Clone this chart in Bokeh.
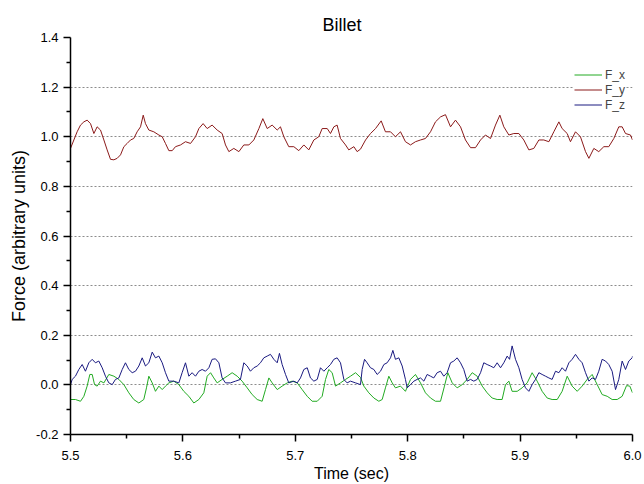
from bokeh.plotting import figure
from bokeh.models import (Range1d, FixedTicker, PrintfTickFormatter, Legend,
                          LegendItem)
from bokeh.embed import file_html
from bokeh.resources import INLINE

# ---------------- data ----------------
time_y = [5.5000, 5.5030, 5.5059, 5.5089, 5.5119, 5.5148, 5.5178, 5.5208, 5.5237, 5.5267,
          5.5297, 5.5326, 5.5356, 5.5386, 5.5415, 5.5445, 5.5475, 5.5504, 5.5534, 5.5563,
          5.5593, 5.5623, 5.5647, 5.5667, 5.5697, 5.5741, 5.5786, 5.5816, 5.5845, 5.5875,
          5.5905, 5.5934, 5.5979, 5.6023, 5.6068, 5.6112, 5.6142, 5.6180, 5.6216, 5.6260,
          5.6305, 5.6349, 5.6379, 5.6409, 5.6453, 5.6498, 5.6542, 5.6587, 5.6631, 5.6676,
          5.6711, 5.6750, 5.6794, 5.6839, 5.6868, 5.6898, 5.6942, 5.6987, 5.7031, 5.7076,
          5.7120, 5.7165, 5.7209, 5.7239, 5.7284, 5.7313, 5.7343, 5.7372, 5.7402, 5.7447,
          5.7476, 5.7521, 5.7550, 5.7580, 5.7625, 5.7669, 5.7714, 5.7764, 5.7802, 5.7847,
          5.7891, 5.7936, 5.7980, 5.8025, 5.8069, 5.8114, 5.8158, 5.8203, 5.8247, 5.8292,
          5.8336, 5.8381, 5.8425, 5.8470, 5.8514, 5.8559, 5.8603, 5.8648, 5.8692, 5.8737,
          5.8781, 5.8820, 5.8855, 5.8900, 5.8944, 5.8989, 5.9033, 5.9078, 5.9122, 5.9167,
          5.9211, 5.9256, 5.9300, 5.9345, 5.9374, 5.9419, 5.9448, 5.9493, 5.9537, 5.9582,
          5.9612, 5.9656, 5.9700, 5.9745, 5.9789, 5.9834, 5.9878, 5.9908, 5.9938, 5.9982,
          6.0000]
force_y = [0.953, 0.987, 1.020, 1.047, 1.060, 1.067, 1.053, 1.013, 1.040, 1.027,
           0.987, 0.947, 0.909, 0.907, 0.913, 0.927, 0.960, 0.973, 0.987, 0.993,
           1.020, 1.040, 1.087, 1.053, 1.027, 1.020, 1.007, 1.000, 0.973, 0.944,
           0.944, 0.960, 0.967, 0.980, 0.973, 1.000, 1.033, 1.053, 1.033, 1.047,
           1.027, 1.013, 0.967, 0.940, 0.953, 0.940, 0.967, 0.967, 0.987, 1.033,
           1.073, 1.033, 1.047, 1.027, 1.040, 1.000, 0.960, 0.960, 0.944, 0.967,
           0.947, 0.987, 1.000, 1.033, 1.033, 1.013, 1.040, 1.047, 0.993, 0.967,
           0.947, 0.960, 0.940, 0.950, 0.987, 1.013, 1.033, 1.064, 1.020, 1.020,
           1.000, 1.020, 0.980, 0.967, 0.980, 0.987, 0.993, 1.020, 1.060, 1.080,
           1.089, 1.040, 1.067, 1.040, 0.987, 0.956, 0.956, 0.987, 1.007, 0.993,
           1.047, 1.087, 1.040, 1.007, 1.013, 1.013, 0.987, 0.947, 0.953, 0.987,
           0.987, 0.980, 1.020, 1.060, 1.033, 1.013, 0.980, 1.020, 1.000, 0.940,
           0.913, 0.953, 0.940, 0.960, 0.960, 0.993, 1.040, 1.040, 1.013, 1.007,
           0.987]

time_z = [5.5000, 5.5015, 5.5044, 5.5074, 5.5104, 5.5133, 5.5163, 5.5193, 5.5222, 5.5252,
          5.5282, 5.5311, 5.5341, 5.5371, 5.5400, 5.5430, 5.5460, 5.5489, 5.5519, 5.5549,
          5.5578, 5.5608, 5.5638, 5.5667, 5.5697, 5.5727, 5.5756, 5.5786, 5.5816, 5.5845,
          5.5875, 5.5919, 5.5964, 5.5993, 5.6023, 5.6053, 5.6082, 5.6112, 5.6142, 5.6171,
          5.6201, 5.6231, 5.6260, 5.6290, 5.6320, 5.6349, 5.6379, 5.6423, 5.6468, 5.6512,
          5.6542, 5.6572, 5.6601, 5.6631, 5.6661, 5.6690, 5.6720, 5.6750, 5.6779, 5.6809,
          5.6839, 5.6859, 5.6883, 5.6913, 5.6942, 5.6987, 5.7017, 5.7046, 5.7076, 5.7106,
          5.7135, 5.7165, 5.7195, 5.7224, 5.7254, 5.7284, 5.7313, 5.7343, 5.7372, 5.7402,
          5.7432, 5.7461, 5.7491, 5.7536, 5.7580, 5.7595, 5.7616, 5.7639, 5.7669, 5.7699,
          5.7728, 5.7758, 5.7788, 5.7817, 5.7847, 5.7868, 5.7891, 5.7921, 5.7951, 5.7980,
          5.7995, 5.8025, 5.8055, 5.8084, 5.8114, 5.8144, 5.8173, 5.8203, 5.8232, 5.8262,
          5.8292, 5.8321, 5.8351, 5.8381, 5.8410, 5.8440, 5.8470, 5.8499, 5.8529, 5.8559,
          5.8588, 5.8618, 5.8648, 5.8677, 5.8707, 5.8737, 5.8766, 5.8796, 5.8826, 5.8855,
          5.8885, 5.8906, 5.8929, 5.8959, 5.8989, 5.9018, 5.9048, 5.9078, 5.9107, 5.9137,
          5.9167, 5.9196, 5.9226, 5.9256, 5.9285, 5.9315, 5.9345, 5.9374, 5.9404, 5.9434,
          5.9463, 5.9493, 5.9523, 5.9552, 5.9582, 5.9612, 5.9641, 5.9671, 5.9700, 5.9730,
          5.9760, 5.9789, 5.9819, 5.9849, 5.9878, 5.9908, 5.9938, 5.9967, 5.9997, 6.0000]
force_z = [0.000, 0.022, 0.035, 0.062, 0.082, 0.055, 0.089, 0.103, 0.089, 0.096,
           0.069, 0.035, 0.008, 0.001, 0.022, 0.028, 0.062, 0.089, 0.062, 0.049,
           0.055, 0.076, 0.109, 0.076, 0.089, 0.132, 0.109, 0.116, 0.089, 0.049,
           0.015, 0.015, 0.008, 0.049, 0.089, 0.035, 0.049, 0.035, 0.055, 0.062,
           0.055, 0.069, 0.103, 0.105, 0.089, 0.028, 0.008, 0.008, 0.015, 0.022,
           0.089, 0.076, 0.055, 0.069, 0.076, 0.089, 0.109, 0.116, 0.123, 0.103,
           0.089, 0.127, 0.082, 0.042, 0.008, 0.015, 0.008, 0.028, 0.062, 0.069,
           0.028, 0.015, 0.022, 0.069, 0.055, 0.069, 0.082, 0.103, 0.109, 0.089,
           0.022, 0.008, 0.015, 0.008, 0.001, 0.062, 0.103, 0.089, 0.069, 0.062,
           0.042, 0.055, 0.082, 0.089, 0.109, 0.139, 0.103, 0.109, 0.076, 0.022,
           -0.012, 0.001, 0.015, 0.022, 0.028, 0.015, 0.042, 0.035, 0.028, 0.049,
           0.055, 0.035, 0.049, 0.089, 0.096, 0.109, 0.089, 0.062, 0.015, 0.022,
           0.015, 0.022, 0.049, 0.089, 0.082, 0.076, 0.069, 0.089, 0.069, 0.089,
           0.116, 0.103, 0.157, 0.103, 0.069, 0.022, -0.012, -0.026, 0.001, 0.022,
           0.049, 0.042, 0.035, 0.028, 0.022, 0.055, 0.049, 0.069, 0.055, 0.089,
           0.103, 0.123, 0.103, 0.089, 0.049, 0.015, 0.028, 0.022, 0.055, 0.103,
           0.096, 0.082, 0.055, -0.019, 0.022, 0.096, 0.062, 0.096, 0.109, 0.116]

time_x = [5.5000, 5.5044, 5.5089, 5.5119, 5.5148, 5.5172, 5.5193, 5.5214, 5.5237, 5.5267,
          5.5297, 5.5341, 5.5386, 5.5430, 5.5475, 5.5519, 5.5563, 5.5608, 5.5652, 5.5676,
          5.5697, 5.5727, 5.5756, 5.5786, 5.5816, 5.5845, 5.5875, 5.5919, 5.5964, 5.6008,
          5.6053, 5.6097, 5.6142, 5.6186, 5.6216, 5.6246, 5.6275, 5.6305, 5.6349, 5.6394,
          5.6438, 5.6483, 5.6527, 5.6572, 5.6616, 5.6661, 5.6705, 5.6735, 5.6765, 5.6794,
          5.6839, 5.6883, 5.6928, 5.6972, 5.7017, 5.7061, 5.7106, 5.7150, 5.7195, 5.7239,
          5.7269, 5.7298, 5.7328, 5.7358, 5.7402, 5.7447, 5.7491, 5.7536, 5.7580, 5.7610,
          5.7654, 5.7699, 5.7743, 5.7773, 5.7802, 5.7832, 5.7862, 5.7891, 5.7936, 5.7980,
          5.8025, 5.8069, 5.8114, 5.8158, 5.8203, 5.8247, 5.8292, 5.8327, 5.8357, 5.8396,
          5.8440, 5.8485, 5.8529, 5.8574, 5.8618, 5.8663, 5.8707, 5.8751, 5.8796, 5.8840,
          5.8870, 5.8900, 5.8929, 5.8974, 5.9018, 5.9063, 5.9107, 5.9152, 5.9196, 5.9241,
          5.9285, 5.9330, 5.9374, 5.9419, 5.9463, 5.9508, 5.9552, 5.9597, 5.9641, 5.9686,
          5.9730, 5.9775, 5.9819, 5.9864, 5.9908, 5.9947, 5.9976, 6.0000]
force_x = [-0.059, -0.059, -0.066, -0.046, -0.005, 0.042, 0.042, 0.001, -0.005, 0.015,
           0.008, 0.042, 0.035, 0.022, 0.001, -0.032, -0.059, -0.073, -0.059, -0.012,
           0.035, 0.008, -0.026, -0.005, -0.019, -0.005, 0.008, 0.015, 0.001, -0.026,
           -0.046, -0.073, -0.059, -0.032, 0.035, 0.049, 0.028, 0.008, 0.022, 0.035,
           0.049, 0.035, 0.015, -0.012, -0.039, -0.059, -0.066, -0.019, 0.028, 0.008,
           -0.019, -0.005, 0.008, 0.015, 0.008, -0.019, -0.046, -0.066, -0.066, -0.046,
           0.022, 0.062, 0.049, -0.005, 0.008, 0.022, 0.035, 0.049, 0.030, -0.005,
           -0.032, -0.053, -0.066, -0.059, -0.012, 0.035, 0.008, -0.012, -0.005, -0.026,
           0.022, 0.042, 0.008, -0.032, -0.053, -0.066, -0.066, -0.005, 0.049, 0.008,
           -0.012, 0.001, 0.022, 0.049, 0.035, -0.005, -0.032, -0.053, -0.059, -0.059,
           0.001, 0.015, -0.026, -0.026, -0.012, 0.008, 0.049, 0.015, -0.026, -0.053,
           -0.059, -0.059, -0.026, 0.035, -0.005, -0.026, -0.005, 0.022, 0.042, 0.001,
           -0.039, -0.046, -0.059, -0.059, -0.046, -0.003, -0.005, -0.032]

series_names = ["F_x", "F_y", "F_z"]
series_colors = ["#22aa22", "#8b1a1a", "#1a1a80"]

x_ticks = [5.5, 5.6, 5.7, 5.8, 5.9, 6.0]
x_minor_ticks = [5.55, 5.65, 5.75, 5.85, 5.95]
y_ticks = [-0.2, 0.0, 0.2, 0.4, 0.6, 0.8, 1.0, 1.2, 1.4]
y_minor_ticks = [-0.1, 0.1, 0.3, 0.5, 0.7, 0.9, 1.1, 1.3]
y_grid_ticks = [0.0, 0.2, 0.4, 0.6, 0.8, 1.0, 1.2]

FONT = "Liberation Sans"

p = figure(width=644, height=484, output_backend="svg", toolbar_location=None,
           x_range=Range1d(5.5, 6.0), y_range=Range1d(-0.2, 1.4),
           min_border_left=70, min_border_right=12, min_border_top=37,
           min_border_bottom=49, background_fill_color="white",
           border_fill_color="white")
p.outline_line_color = None

# title
p.title.text = "Billet"
p.title.align = "left"
p.title.offset = 252
p.title.text_font = FONT
p.title.text_font_size = "18px"
p.title.text_font_style = "normal"
p.title.text_color = "black"
p.title.standoff = 5

# axes
for ax in (p.xaxis[0], p.yaxis[0]):
    ax.axis_line_color = "black"
    ax.axis_line_width = 1.5
    ax.major_tick_line_color = "black"
    ax.major_tick_line_width = 1.5
    ax.minor_tick_line_color = "black"
    ax.minor_tick_line_width = 1.5
    ax.major_tick_in = 0
    ax.major_tick_out = 7
    ax.minor_tick_in = 0
    ax.minor_tick_out = 4
    ax.major_label_text_font = FONT
    ax.major_label_text_font_size = "13px"
    ax.major_label_text_color = "black"
    ax.axis_label_text_font = FONT
    ax.axis_label_text_font_style = "normal"
    ax.axis_label_text_color = "black"
    ax.formatter = PrintfTickFormatter(format="%.1f")

p.xaxis[0].ticker = FixedTicker(ticks=x_ticks, minor_ticks=x_minor_ticks)
p.yaxis[0].ticker = FixedTicker(ticks=y_ticks, minor_ticks=y_minor_ticks)
p.xaxis[0].axis_label = "Time (sec)"
p.yaxis[0].axis_label = "Force (arbitrary units)"
p.xaxis[0].axis_label_text_font_size = "16px"
p.yaxis[0].axis_label_text_font_size = "18px"
p.xaxis[0].major_label_standoff = 9
p.xaxis[0].axis_label_standoff = 2
p.yaxis[0].major_label_standoff = 5
p.yaxis[0].axis_label_standoff = 4

# grid
p.xgrid.visible = False
p.ygrid[0].ticker = FixedTicker(ticks=y_grid_ticks)
p.ygrid.grid_line_color = "#8c8c8c"
p.ygrid.grid_line_dash = "2 2"
p.ygrid.grid_line_width = 1

# lines
r_x = p.line(time_x, force_x, line_color=series_colors[0], line_width=1)
r_y = p.line(time_y, force_y, line_color=series_colors[1], line_width=1)
r_z = p.line(time_z, force_z, line_color=series_colors[2], line_width=1)

legend = Legend(items=[LegendItem(label=series_names[0], renderers=[r_x]),
                       LegendItem(label=series_names[1], renderers=[r_y]),
                       LegendItem(label=series_names[2], renderers=[r_z])],
                location=(504, 322))
legend.label_text_font = FONT
legend.label_text_font_size = "12px"
legend.glyph_width = 28
legend.glyph_height = 15
legend.label_height = 15
legend.label_standoff = 3
legend.spacing = 0
legend.padding = 3
legend.margin = 0
legend.border_line_color = None
legend.background_fill_color = "white"
legend.background_fill_alpha = 1.0
p.add_layout(legend)

open("out.html", "w").write(file_html(p, INLINE))
